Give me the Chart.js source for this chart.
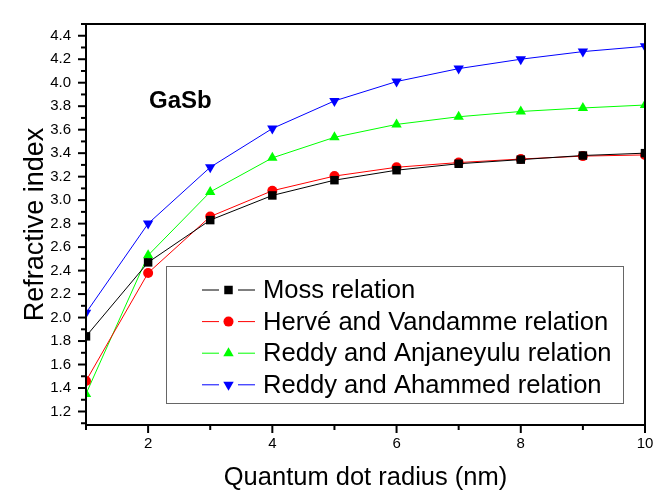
<!DOCTYPE html>
<html>
<head>
<meta charset="utf-8">
<script src="https://cdn.jsdelivr.net/npm/chart.js@4"></script>
<style>
  html, body { margin: 0; padding: 0; background: #fff; }
  #wrap { width: 671px; height: 493px; }
</style>
</head>
<body>
<div id="wrap"><canvas id="myChart"></canvas></div>
<script>
// quantum dot radius (nm)
var radius = [1, 2, 3, 4, 5, 6, 7, 8, 9, 10];

// refractive index for each relation
var moss      = [1.84, 2.47, 2.83, 3.04, 3.17, 3.255, 3.31, 3.345, 3.38, 3.40];
var herve     = [1.46, 2.38, 2.86, 3.08, 3.205, 3.28, 3.32, 3.35, 3.375, 3.385];
var anjaneyulu = [1.35, 2.53, 3.07, 3.36, 3.535, 3.645, 3.71, 3.755, 3.785, 3.81];
var ahammed   = [2.04, 2.80, 3.28, 3.61, 3.845, 4.01, 4.12, 4.20, 4.265, 4.31];

var xTicks = [2, 4, 6, 8, 10];
var xMinor = [1, 3, 5, 7, 9];
var yTicks = [1.2, 1.4, 1.6, 1.8, 2.0, 2.2, 2.4, 2.6, 2.8, 3.0, 3.2, 3.4, 3.6, 3.8, 4.0, 4.2, 4.4];
var yMinor = [1.1, 1.3, 1.5, 1.7, 1.9, 2.1, 2.3, 2.5, 2.7, 2.9, 3.1, 3.3, 3.5, 3.7, 3.9, 4.1, 4.3, 4.5];

var FONT = "'Liberation Sans', Arial, sans-serif";

function pts(ys) {
    return ys.map(function (y, i) { return {x: radius[i], y: y}; });
}

// frame + outward ticks, drawn over the data like the original plot
var framePlugin = {
    id: 'frame',
    afterDatasetsDraw: function (chart) {
        var ctx = chart.ctx, a = chart.chartArea;
        var xs = chart.scales.x, ys = chart.scales.y;
        ctx.save();
        ctx.strokeStyle = '#000';
        ctx.lineWidth = 2;
        ctx.strokeRect(a.left, a.top, a.right - a.left, a.bottom - a.top);
        function tick(x1, y1, x2, y2, w) {
            ctx.lineWidth = w;
            ctx.beginPath();
            ctx.moveTo(x1, y1);
            ctx.lineTo(x2, y2);
            ctx.stroke();
        }
        xTicks.forEach(function (v) { var p = xs.getPixelForValue(v); tick(p, a.bottom, p, a.bottom + 8, 2); });
        xMinor.forEach(function (v) { var p = xs.getPixelForValue(v); tick(p, a.bottom, p, a.bottom + 5, 2); });
        yTicks.forEach(function (v) { var p = ys.getPixelForValue(v); tick(a.left, p, a.left - 8, p, 2); });
        yMinor.forEach(function (v) { var p = ys.getPixelForValue(v); tick(a.left, p, a.left - 5, p, 2); });
        ctx.restore();
    }
};

// legend box inside the plot + "GaSb" label
var boxPlugin = {
    id: 'box',
    afterDraw: function (chart) {
        var ctx = chart.ctx;
        var xs = chart.scales.x, ys = chart.scales.y;
        ctx.save();
        ctx.fillStyle = '#000';
        ctx.font = 'bold 24px ' + FONT;
        ctx.textAlign = 'center';
        ctx.textBaseline = 'middle';
        ctx.fillText('GaSb', xs.getPixelForValue(2.52), ys.getPixelForValue(3.84));

        var bx = 166.5, by = 266.5, bw = 457, bh = 137;
        ctx.fillStyle = '#fff';
        ctx.fillRect(bx, by, bw, bh);
        ctx.strokeStyle = '#666';
        ctx.lineWidth = 1;
        ctx.strokeRect(bx, by, bw, bh);

        ctx.font = '25.6px ' + FONT;
        ctx.textAlign = 'left';
        chart.data.datasets.forEach(function (ds, i) {
            var y = 290 + i * 31.6;
            ctx.strokeStyle = ds.borderColor;
            ctx.lineWidth = 1;
            ctx.beginPath();
            ctx.moveTo(202, y); ctx.lineTo(219, y);
            ctx.moveTo(238, y); ctx.lineTo(255, y);
            ctx.stroke();
            ctx.fillStyle = ds.pointBackgroundColor;
            ctx.strokeStyle = ds.pointBackgroundColor;
            Chart.helpers.drawPoint(ctx, {
                pointStyle: ds.pointStyle,
                rotation: ds.pointRotation || 0,
                radius: ds.pointRadius,
                borderWidth: 0
            }, 228.5, y);
            ctx.fillStyle = '#000';
            ctx.fillText(ds.label, 263, y + 1);
        });
        ctx.restore();
    }
};

function series(label, ys, color, style, r, rot) {
    return {
        label: label,
        data: pts(ys),
        borderColor: color,
        backgroundColor: color,
        pointBackgroundColor: color,
        pointBorderColor: color,
        pointBorderWidth: 0,
        borderWidth: 1,
        pointStyle: style,
        pointRadius: r,
        pointHoverRadius: r,
        pointRotation: rot || 0,
        showLine: true,
        tension: 0,
        clip: 0
    };
}

var ctx = document.getElementById('myChart').getContext('2d');
var myChart = new Chart(ctx, {
    type: 'scatter',
    data: {
        datasets: [
            series('Moss relation', moss, '#000000', 'rect', 6),
            series('Hervé and Vandamme relation', herve, '#ff0000', 'circle', 5),
            series('Reddy and Anjaneyulu relation', anjaneyulu, '#00ff00', 'triangle', 6),
            series('Reddy and Ahammed relation', ahammed, '#0000ff', 'triangle', 6, 180)
        ]
    },
    plugins: [framePlugin, boxPlugin],
    options: {
        responsive: true,
        maintainAspectRatio: false,
        animation: false,
        layout: { padding: { top: 10, right: 26, left: 0, bottom: 0 } },
        scales: {
            x: {
                type: 'linear',
                min: 1,
                max: 10,
                afterFit: function (s) { s.height = 68; },
                afterBuildTicks: function (s) { s.ticks = xTicks.map(function (v) { return {value: v}; }); },
                grid: { display: false, drawTicks: false },
                border: { display: false },
                ticks: {
                    padding: 10,
                    color: '#000',
                    font: { family: FONT, size: 15 },
                    callback: function (v) { return String(v); }
                },
                title: {
                    display: true,
                    text: 'Quantum dot radius (nm)',
                    color: '#000',
                    font: { family: FONT, size: 25.5 },
                    padding: { top: 0, bottom: 0 }
                }
            },
            y: {
                type: 'linear',
                min: 1.085,
                max: 4.5,
                afterFit: function (s) { s.width = 86; },
                afterBuildTicks: function (s) { s.ticks = yTicks.map(function (v) { return {value: v}; }); },
                grid: { display: false, drawTicks: false },
                border: { display: false },
                ticks: {
                    padding: 15,
                    color: '#000',
                    font: { family: FONT, size: 15 },
                    callback: function (v) { return v.toFixed(1); }
                },
                title: {
                    display: true,
                    text: 'Refractive index',
                    color: '#000',
                    font: { family: FONT, size: 27 },
                    padding: { top: 19, bottom: 0 }
                }
            }
        },
        plugins: {
            legend: { display: false },
            tooltip: { enabled: false }
        }
    }
});
</script>
</body>
</html>
